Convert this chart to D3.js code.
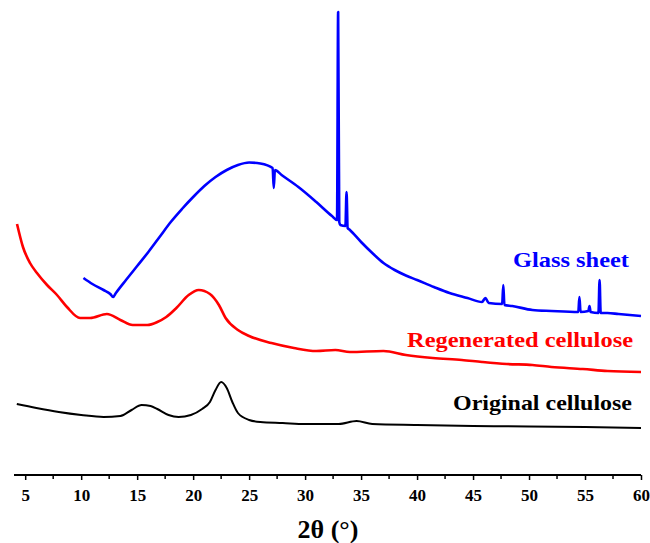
<!DOCTYPE html>
<html lang="en">
  <head>
    <meta charset="UTF-8" />
    <title>XRD patterns</title>
    <style>
      body { margin: 0; background: #fff; }
      svg text { font-family: "Liberation Serif", "Times New Roman", Times, Tinos, FreeSerif, "DejaVu Serif", serif !important; font-weight: bold; }
    </style>
  </head>
  <body>
    <script src="https://cdn.jsdelivr.net/npm/d3@7"></script>
    <script>
      // Sizes
      const width = 650;
      const height = 543;

      // 2θ positions and intensities (a.u.)
      const origAngle = [4.25, 6, 8, 10, 12, 13.5, 14.5, 15.4, 16.2, 16.8, 17.8, 18.7, 19.8, 20.8, 21.5, 22, 22.5, 23, 23.5, 24, 25, 26, 28, 30, 33, 34.6, 36, 40, 45, 50, 55, 60];
      const origValue = [71, 67, 63, 60, 58, 59, 65, 70, 69, 66, 60, 58, 60, 66, 73, 85, 93, 87, 73, 62, 55, 53, 52, 51, 51, 54, 51, 50, 49, 48.5, 48, 47];

      const regenAngle = [4.27, 4.8, 5.43, 6.05, 6.95, 7.84, 8.73, 9.9, 10.8, 12.3, 13.5, 14.6, 15.9, 16.8, 17.6, 18.5, 19.6, 20.5, 21.5, 22.3, 22.9, 24, 25, 27, 29, 31, 32.7, 34, 37, 39, 41.4, 44, 45.8, 48, 50.3, 52, 54.8, 57, 60];
      const regenValue = [251, 228, 212, 202, 190, 180, 168, 157, 157, 161, 155, 150, 150, 153, 158, 167, 180, 185, 181, 170, 157, 145, 139, 132, 127, 124, 125, 123, 124, 120, 117, 115, 113, 111, 110, 108, 106, 104, 103];

      const glassAngle = [10.2, 11, 12, 12.6, 12.85, 13.1, 14, 15, 16, 17, 18, 19, 20, 21, 22, 23, 24, 25, 26, 27.1, 27.2, 27.3, 27.9, 29.4, 31, 32.4, 32.85, 32.95, 33.05, 33.15, 33.6, 33.7, 33.8, 34, 35, 36, 37, 38, 39, 40, 41.5, 42.9, 44.5, 45.8, 46.1, 46.4, 47.6, 47.7, 47.8, 48.5, 50.3, 52, 54.4, 54.5, 54.6, 55.3, 55.4, 55.5, 56.2, 56.3, 56.4, 57, 58, 60];
      const glassValue = [197, 191, 185, 181, 178, 182, 195, 209, 223, 238, 253, 266, 278, 289, 298, 305, 310, 312.5, 311.5, 307, 287, 305, 300, 288, 273, 259, 255, 463, 253, 250, 249, 283, 247, 245, 233, 222, 212, 205, 199.5, 195, 188, 182, 177, 173, 177, 172, 171, 190, 170, 169, 165, 164, 163, 178, 163, 164, 169, 163, 162, 195, 162, 162, 161, 159];

      const seriesNames = ['Original cellulose', 'Regenerated cellulose', 'Glass sheet'];
      const seriesColors = ['#000000', '#ff0000', '#0000ff'];
      const xTicks = [5, 10, 15, 20, 25, 30, 35, 40, 45, 50, 55, 60];
      const xMinorTicks = [7.5, 12.5, 17.5, 22.5, 27.5, 32.5, 37.5, 42.5, 47.5, 52.5, 57.5];

      const serif = '"Liberation Serif", "Times New Roman", Times, Tinos, FreeSerif, "DejaVu Serif", serif';

      const svg = d3.select('body').append('svg')
        .attr('width', width)
        .attr('height', height)
        .attr('font-family', serif);

      const axisY = 475;

      // Scales
      const xScale = d3.scaleLinear().domain([4, 60]).range([14, 641]);
      const yScale = d3.scaleLinear().domain([0, 475]).range([475, 0]);

      const line = d3.line()
        .x((d) => xScale(d[0]))
        .y((d) => yScale(d[1]))
        .curve(d3.curveMonotoneX);

      const series = [
        d3.zip(origAngle, origValue),
        d3.zip(regenAngle, regenValue),
        d3.zip(glassAngle, glassValue)
      ];
      const strokeW = [2, 2.6, 2.6];

      series.forEach((s, i) => {
        svg.append('path')
          .datum(s)
          .attr('fill', 'none')
          .attr('stroke', seriesColors[i])
          .attr('stroke-width', strokeW[i])
          .attr('stroke-linejoin', 'round')
          .attr('d', line);
      });

      // X axis
      const xAxis = svg.append('g')
        .attr('transform', `translate(0,${axisY})`)
        .call(d3.axisBottom(xScale).tickValues(xTicks).tickSize(5).tickPadding(9).tickSizeOuter(0));
      xAxis.attr('font-family', serif);
      xAxis.select('.domain').attr('stroke-width', 2).attr('d', `M${xScale(4)},0H${xScale(60)}`);
      xAxis.selectAll('.tick line').attr('stroke-width', 1.5);
      xAxis.selectAll('.tick text')
        .attr('font-size', 17)
        .attr('font-weight', 'bold')
        .attr('fill', '#000');

      xAxis.selectAll('.minor')
        .data(xMinorTicks)
        .enter()
        .append('line')
        .attr('class', 'minor')
        .attr('x1', (d) => xScale(d))
        .attr('x2', (d) => xScale(d))
        .attr('y1', 0)
        .attr('y2', 4)
        .attr('stroke', '#000')
        .attr('stroke-width', 1.5);

      svg.append('text')
        .text('2θ (°)')
        .attr('x', 328)
        .attr('y', 538)
        .attr('text-anchor', 'middle')
        .attr('font-size', 26);

      // Series labels
      const labelPos = [[632, 410, 179], [633, 347, 226], [629, 267, 116]];
      seriesNames.forEach((name, i) => {
        svg.append('text')
          .text(name)
          .attr('x', labelPos[i][0] - labelPos[i][2])
          .attr('y', labelPos[i][1])
          .attr('font-size', 21)
          .attr('textLength', labelPos[i][2])
          .attr('lengthAdjust', 'spacingAndGlyphs')
          .attr('fill', seriesColors[i]);
      });
    </script>
  </body>
</html>
